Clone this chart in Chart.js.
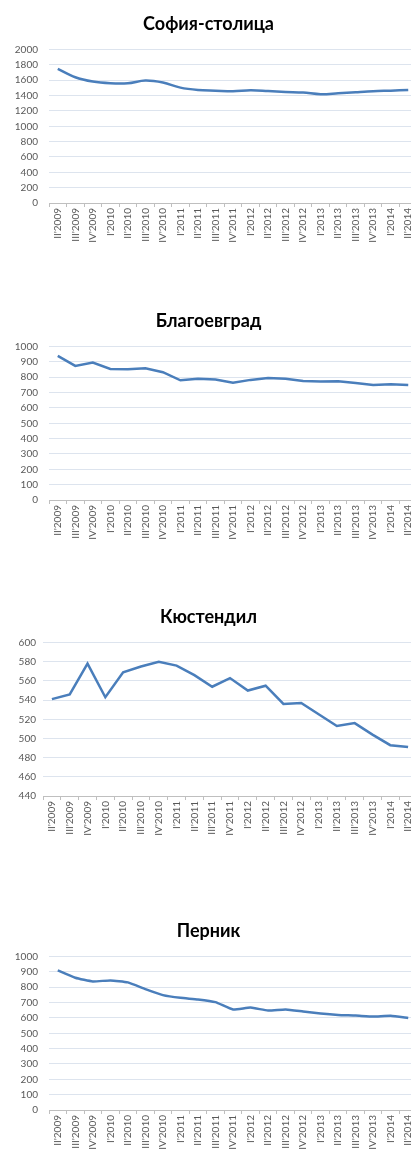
<!DOCTYPE html>
<html>
<head>
<meta charset="utf-8">
<script src="https://cdn.jsdelivr.net/npm/chart.js@4.4.1/dist/chart.umd.min.js"></script>
<style>
  html, body { margin: 0; padding: 0; background: #fff; width: 411px; height: 1151px; overflow: hidden; position: relative; }
  canvas { position: absolute; left: 0; }
</style>
</head>
<body>
<canvas id="c1" width="434" height="263" style="top:0px"></canvas>
<canvas id="c2" width="434" height="263" style="top:297px"></canvas>
<canvas id="c3" width="434" height="263" style="top:593px"></canvas>
<canvas id="c4" width="434" height="263" style="top:907px"></canvas>
<script>
// quarters on the x axis
var quarters = ["II'2009", "III'2009", "IV'2009", "I'2010", "II'2010", "III'2010", "IV'2010",
  "I'2011", "II'2011", "III'2011", "IV'2011", "I'2012", "II'2012", "III'2012", "IV'2012",
  "I'2013", "II'2013", "III'2013", "IV'2013", "I'2014", "II'2014"];

// values
var sofia = [1748, 1639, 1583, 1561, 1561, 1596, 1570, 1504, 1474, 1465, 1457, 1470, 1460, 1448, 1440, 1418, 1430, 1444, 1457, 1465, 1474];
var blagoevgrad = [939, 874, 896, 854, 852, 859, 833, 780, 791, 785, 765, 783, 796, 791, 776, 772, 774, 763, 750, 754, 750];
var kyustendil = [541, 546, 578, 543, 569, 575, 580, 576, 566, 554, 563, 550, 555, 536, 537, 525, 513, 516, 504, 493, 491];
var pernik = [910, 862, 838, 845, 832, 788, 749, 731, 721, 703, 655, 668, 648, 655, 642, 629, 620, 616, 609, 614, 600];

var titles = ['София-столица', 'Благоевград', 'Кюстендил', 'Перник'];

var textColor = '#595959';
var tickFont = { family: 'Lato', size: 10 };

function makeChart(id, title, values, yMin, yMax, step, yWidth, yPad, tension) {
  var ctx = document.getElementById(id).getContext('2d');
  return new Chart(ctx, {
    type: 'line',
    data: {
      labels: quarters,
      datasets: [{
        data: values,
        borderColor: '#4a7ebb',
        borderWidth: 2.5,
        pointRadius: 0,
        tension: tension,
        fill: false
      }]
    },
    options: {
      responsive: false,
      animation: false,
      layout: { padding: { left: 0, right: 17, top: 0, bottom: 0 } },
      plugins: {
        legend: { display: false },
        tooltip: { enabled: false },
        title: {
          display: true,
          text: title,
          color: '#000',
          font: { family: 'Lato', size: 18, weight: 'bold' },
          padding: { top: 13, bottom: 15 }
        }
      },
      scales: {
        x: {
          offset: true,
          grid: { offset: true, drawOnChartArea: false, drawTicks: true, tickLength: 4, color: '#bfbfbf' },
          border: { color: '#bfbfbf' },
          ticks: { autoSkip: false, maxRotation: 90, minRotation: 90, padding: 1, color: textColor, font: tickFont },
          afterFit: function (s) { s.height = 60; }
        },
        y: {
          min: yMin,
          max: yMax,
          grid: { color: '#dde4ee', drawTicks: false },
          border: { display: false },
          ticks: {
            stepSize: step, padding: yPad, color: textColor, font: tickFont,
            callback: function (v) { return String(v); }
          },
          afterFit: function (s) { s.width = yWidth; }
        }
      }
    }
  });
}

makeChart('c1', titles[0], sofia, 0, 2000, 200, 49, 11, 0.35);
makeChart('c2', titles[1], blagoevgrad, 0, 1000, 100, 49, 11, 0);
makeChart('c3', titles[2], kyustendil, 440, 600, 20, 43, 7, 0);
makeChart('c4', titles[3], pernik, 0, 1000, 100, 49, 11, 0.15);
</script>
</body>
</html>
